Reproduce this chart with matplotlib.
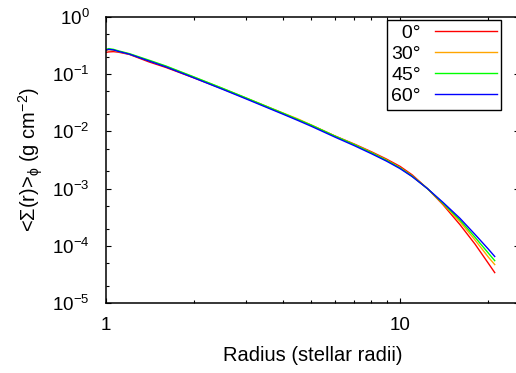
import numpy as np
import matplotlib
matplotlib.use('Agg')
import matplotlib.pyplot as plt
from matplotlib.ticker import LogLocator, FixedLocator, FuncFormatter, NullFormatter

plt.rcParams['font.family'] = ['Liberation Sans', 'DejaVu Sans']
plt.rcParams['mathtext.fontset'] = 'custom'
plt.rcParams['mathtext.rm'] = 'Liberation Sans'
plt.rcParams['mathtext.it'] = 'Liberation Sans:italic'
plt.rcParams['mathtext.default'] = 'regular'

# radio en radios estelares
radius = [1.0, 1.02, 1.06, 1.1, 1.2, 1.4, 1.6, 2.0, 2.5, 3.0, 4.0, 4.5, 5.0, 6.0,
          7.0, 8.0, 9.0, 10.0, 11.0, 12.4, 14.0, 16.0, 18.0, 20.0, 21.0]

# densidad superficial promedio (g cm^-2) para cada inclinacion
sigma_0 = [0.240, 0.245, 0.248, 0.243, 0.222, 0.164, 0.131, 0.0855, 0.0550, 0.0378,
           0.0206, 0.0160, 0.0128, 0.00835, 0.00600, 0.00440, 0.00328, 0.00245,
           0.00174, 0.00100, 0.000525, 0.000234, 0.000107, 4.9e-5, 3.4e-5]
sigma_30 = [0.258, 0.268, 0.263, 0.250, 0.226, 0.172, 0.137, 0.0880, 0.0560, 0.0382,
            0.0210, 0.0165, 0.0129, 0.00832, 0.00590, 0.00428, 0.00316, 0.00232,
            0.00166, 0.00100, 0.000543, 0.000263, 0.000126, 6.3e-5, 4.7e-5]
sigma_45 = [0.270, 0.280, 0.272, 0.257, 0.229, 0.176, 0.139, 0.0888, 0.0563, 0.0384,
            0.0208, 0.0161, 0.0128, 0.00830, 0.00585, 0.00422, 0.00312, 0.00230,
            0.00165, 0.00100, 0.000556, 0.000282, 0.000141, 7.4e-5, 5.5e-5]
sigma_60 = [0.263, 0.272, 0.266, 0.251, 0.224, 0.170, 0.134, 0.0855, 0.0541, 0.0369,
            0.0200, 0.0155, 0.01225, 0.00798, 0.00562, 0.00407, 0.00302, 0.00224,
            0.00162, 0.00100, 0.000575, 0.000302, 0.000158, 8.7e-5, 6.5e-5]

labels = ['\u20070°', '30°', '45°', '60°']
colors = ['#ff0000', '#ffa500', '#00ff00', '#0000ff']

fig = plt.figure(figsize=(5.16, 3.73), dpi=100)
ax = fig.add_axes([106/516, 70/373, 413/516, 286/373])

for s, lab, c in zip([sigma_0, sigma_30, sigma_45, sigma_60], labels, colors):
    ax.plot(radius, s, color=c, lw=1.0, label=lab)

ax.set_xscale('log')
ax.set_yscale('log')
ax.set_xlim(1, 25.4)
ax.set_ylim(1e-5, 1)

ax.xaxis.set_major_locator(FixedLocator([1, 10]))
ax.xaxis.set_minor_locator(LogLocator(base=10, subs=np.arange(2, 10)))
ax.xaxis.set_major_formatter(FuncFormatter(lambda v, p: '%d' % round(v)))
ax.xaxis.set_minor_formatter(NullFormatter())

ax.yaxis.set_major_locator(LogLocator(base=10, numticks=10))
ax.yaxis.set_minor_locator(LogLocator(base=10, subs=[2, 5], numticks=10))
ax.yaxis.set_major_formatter(FuncFormatter(lambda v, p: '10$^{%d}$' % round(np.log10(v))))
ax.yaxis.set_minor_formatter(NullFormatter())

ax.tick_params(which='both', direction='in', top=True, right=True, labelsize=13.5, width=0.8)
ax.tick_params(which='major', length=3.3)
ax.tick_params(axis='x', which='major', pad=10)
ax.tick_params(axis='y', which='major', pad=12)
ax.tick_params(which='minor', length=2.2)
for sp in ax.spines.values():
    sp.set_linewidth(1.1)

ax.set_xlabel('Radius (stellar radii)', fontsize=14.5, labelpad=9)
ax.set_ylabel(r'<$\Sigma$(r)>$_\phi$ (g cm$^{-2}$)', fontsize=14.5, labelpad=5)

leg = ax.legend(loc='upper left', bbox_to_anchor=(387/516, 1 - 20/373), bbox_transform=fig.transFigure,
                markerfirst=False, handlelength=3.2, fontsize=14, frameon=True, fancybox=False,
                framealpha=1, edgecolor='black', borderpad=0.22, labelspacing=0.18,
                handletextpad=0.72, borderaxespad=0)
leg.get_frame().set_linewidth(1.0)

fig.savefig('out.png', dpi=100)
